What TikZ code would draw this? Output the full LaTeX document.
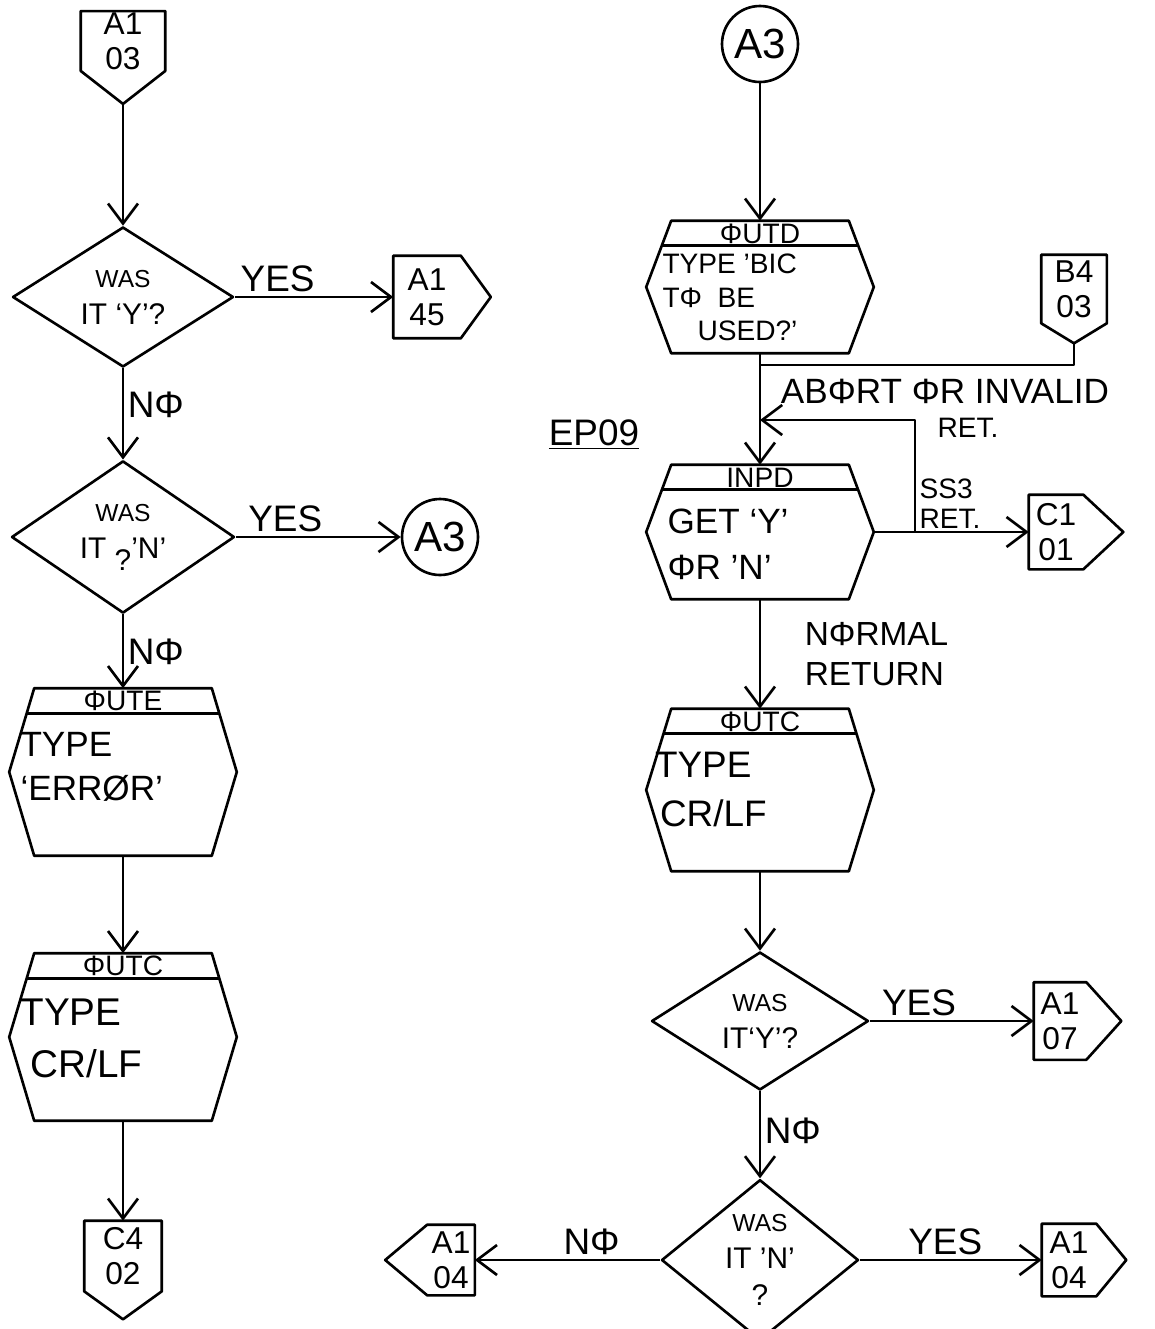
\documentclass[tikz,border=0pt]{standalone}
\usepackage{fontspec}
\setmainfont{Liberation Sans}
\usetikzlibrary{shapes.geometric,arrows.meta,positioning}

% hexagon outline with a header band round an empty node
\newcommand{\hexframe}[2]{%
  \draw ([xshift=5mm]#1.north west) -- ([xshift=-5mm]#1.north east) -- (#1.east)
    -- ([xshift=-5mm]#1.south east) -- ([xshift=5mm]#1.south west) -- (#1.west) -- cycle;
  \begin{scope}
    \clip ([xshift=5mm]#1.north west) -- ([xshift=-5mm]#1.north east) -- (#1.east)
      -- ([xshift=-5mm]#1.south east) -- ([xshift=5mm]#1.south west) -- (#1.west) -- cycle;
    \draw ([yshift=-5mm]#1.north west) -- ([yshift=-5mm]#1.north east);
  \end{scope}
  \node[hdtext] (#1-h) at ([yshift=-2.6mm]#1.north) {#2};
}
% off-page connector outlines (box with a pointed end)
\newcommand{\tipdown}[2]{\draw (#1.north west) -- (#1.north east) -- (#1.south east)
  -- ([yshift=-#2]#1.south) coordinate (#1-tip) -- (#1.south west) -- cycle;}
\newcommand{\tipright}[2]{\draw (#1.north west) -- (#1.north east) -- ([xshift=#2]#1.east)
  -- (#1.south east) -- (#1.south west) -- cycle;}
\newcommand{\tipleft}[2]{\draw (#1.north east) -- (#1.north west) -- ([xshift=-#2]#1.west)
  -- (#1.south west) -- (#1.south east) -- cycle;}

\begin{document}
\begin{tikzpicture}[x=0.02cm,y=-0.02cm,line width=1.5pt,line join=round,>={Straight Barb[length=4mm,width=6mm]},
hexbox/.style={rectangle,inner sep=0pt,minimum width=4.5cm},
hextext/.style={align=left,inner sep=0pt,font=\fontsize{20}{25}\selectfont},
hdtext/.style={inner sep=0pt,font=\fontsize{16}{16}\selectfont},
decision/.style={draw,diamond,inner sep=0pt,align=center,font=\fontsize{17}{21}\selectfont},
offpage/.style={rectangle,inner sep=0pt,align=center,font=\fontsize{18}{20}\selectfont},
onpage/.style={draw,circle,inner sep=0pt,minimum size=1.52cm,font=\fontsize{24}{24}\selectfont},
lbl/.style={inner sep=2pt,font=\fontsize{21}{22}\selectfont}]
\useasboundingbox (0,0) rectangle (1155,1329);

% left column
\node[offpage,minimum width=1.64cm,minimum height=1.1cm] (a103) at (123,41) {A1\\03};
\tipdown{a103}{0.66cm}
\node[decision,minimum width=4.42cm,minimum height=2.8cm] (isy1) at (123,297) {{\fontsize{14}{14}\selectfont WAS}\\IT `Y'?};
\node[offpage,minimum width=1.3cm,minimum height=1.6cm] (a145) at (427,297) {A1\\45};
\tipright{a145}{0.6cm}
\node[decision,minimum width=4.46cm,minimum height=2.78cm] (isn1) at (123,537) {{\fontsize{14}{14}\selectfont WAS}\\IT \raisebox{-0.4em}{?}'N'};
\node[onpage] (a3l) at (440,537) {A3};
\node[hexbox,minimum height=3.3cm] (oute) at (123,772) {};
\hexframe{oute}{ΦUTE}
\node[hextext,below right=0.85cm and 0.2cm of oute.north west] (oute-t) {TYPE\\`ERRØR'};
\node[hexbox,minimum height=3.3cm] (outcl) at (123,1037) {};
\hexframe{outcl}{ΦUTC}
\node[hextext,below right=0.88cm and 0.2cm of outcl.north west,font=\fontsize{22}{30}\selectfont] (outcl-t) {TYPE\\\hspace{0.2cm}CR/LF};
\node[offpage,minimum width=1.5cm,minimum height=1.36cm] (c402) at (123,1256) {C4\\02};
\tipdown{c402}{0.56cm}

\draw[->] (a103-tip) -- (isy1);
\draw[->] (isy1) -- node[lbl,above,pos=0.27] {YES} (a145);
\draw[->] (isy1) -- node[lbl,right,pos=0.4] {NΦ} (isn1);
\draw[->] (isn1) -- node[lbl,above,pos=0.3] {YES} (a3l);
\draw[->] (isn1) -- node[lbl,right,pos=0.5] {NΦ} (oute);
\draw[->] (oute) -- (outcl);
\draw[->] (outcl) -- (c402);

% right column
\node[onpage] (a3r) at (760,44) {A3};
\node[hexbox,minimum height=2.6cm] (outd) at (760,287) {};
\hexframe{outd}{ΦUTD}
\node[hextext,below right=0.64cm and 0.3cm of outd.north west,font=\fontsize{16}{19}\selectfont] (outd-t) {TYPE 'BIC\\TΦ \ BE\\\hspace{0.7cm}USED?'};
\node[offpage,minimum width=1.26cm,minimum height=1.32cm] (b403) at (1074,289) {B4\\03};
\tipdown{b403}{0.4cm}
\coordinate (jn) at (760,365);
\node[lbl,inner sep=0pt,font=\fontsize{20}{20}\selectfont] (abort) at (945,391) {ABΦRT ΦR INVALID};
\node[lbl,inner sep=0pt,font=\fontsize{16}{17}\selectfont] (abret) at (968,428) {RET.};
\node[lbl] (ep09) at (594,435) {\underline{EP09}};
\node[hexbox,minimum height=2.64cm] (inpd) at (760,532) {};
\hexframe{inpd}{INPD}
\node[hextext,below right=0.86cm and 0.4cm of inpd.north west,font=\fontsize{20}{26}\selectfont] (inpd-t) {GET `Y'\\ΦR 'N'};
\coordinate (br) at (915,532);
\coordinate (back) at (760,420);
\node[offpage,minimum width=1.04cm,minimum height=1.44cm] (c101) at (1056,532) {C1\\01};
\tipright{c101}{0.8cm}
\node[lbl,inner sep=0pt,align=left,anchor=south,font=\fontsize{16}{17}\selectfont] (ss3) at (950,530) {SS3\\RET.};
\node[hexbox,minimum height=3.2cm] (outcr) at (760,790) {};
\hexframe{outcr}{ΦUTC}
\node[hextext,below right=0.84cm and 0.15cm of outcr.north west,font=\fontsize{21}{28}\selectfont] (outcr-t) {TYPE\\\hspace{0.1cm}CR/LF};
\node[decision,minimum width=4.34cm,minimum height=2.76cm] (isy2) at (760,1021) {{\fontsize{14}{14}\selectfont WAS}\\IT`Y'?};
\node[offpage,minimum width=1.0cm,minimum height=1.5cm] (a107) at (1060,1021) {A1\\07};
\tipright{a107}{0.7cm}
\node[decision,minimum width=3.94cm,minimum height=2.6cm] (isn2) at (760,1260) {{\fontsize{14}{14}\selectfont WAS}\\IT 'N'\\?};
\node[offpage,minimum width=1.04cm,minimum height=1.4cm] (a104r) at (1069,1260) {A1\\04};
\tipright{a104r}{0.6cm}
\node[offpage,minimum width=0.9cm,minimum height=1.36cm] (a104l) at (451,1260) {A1\\04};
\tipleft{a104l}{0.84cm}

\draw[->] (a3r) -- (outd);
\draw[->] (outd) -- (inpd);
\draw (b403-tip) |- (jn);
\draw[->] (inpd.east) -- (c101);
\draw[->] (br) |- (back);
\draw[->] (inpd) -- node[lbl,right=0.8cm,align=left,font=\fontsize{19}{23}\selectfont] {NΦRMAL\\RETURN} (outcr);
\draw[->] (outcr) -- (isy2);
\draw[->] (isy2) -- node[lbl,above,pos=0.3] {YES} (a107);
\draw[->] (isy2) -- node[lbl,right,pos=0.45] {NΦ} (isn2);
\draw[->] (isn2) -- node[lbl,above,pos=0.47] {YES} (a104r);
\draw[->] (isn2) -- node[lbl,above,pos=0.37] {NΦ} (a104l);
\end{tikzpicture}
\end{document}
